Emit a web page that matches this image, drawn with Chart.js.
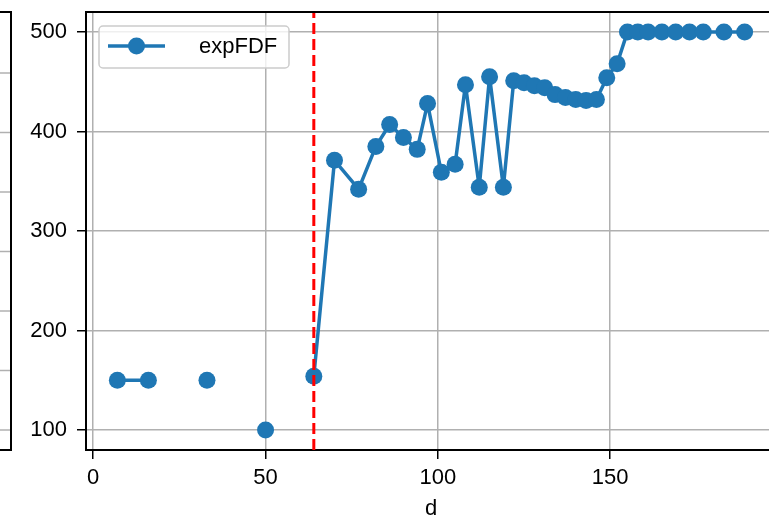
<!DOCTYPE html>
<html>
<head>
<meta charset="utf-8">
<script src="https://cdn.jsdelivr.net/npm/chart.js@4/dist/chart.umd.min.js"></script>
<style>
  html, body { margin: 0; padding: 0; background: #fff; overflow: hidden; width: 769px; height: 520px; }
  #wrap { position: absolute; left: 0; top: 0; width: 800px; height: 520px; }
</style>
</head>
<body>
<div id="wrap"><canvas id="c" width="800" height="520"></canvas></div>
<script>
// ---- data ----
const dValues = [7, 16, 24, 33, 41, 50, 57, 64, 70, 77, 82, 86, 90, 94, 97, 101, 105, 108, 112, 115, 119,
                 122, 125, 128, 131, 134, 137, 140, 143, 146, 149, 152, 155, 158, 161, 165, 169, 173, 177, 183, 189];
const expFDF  = [150, 150, null, 150, null, 100, null, 154, 371, 342, 385, 407, 394, 382, 428, 359, 367, 447, 344, 455, 344,
                 451, 449, 446, 444, 437, 434, 432, 431, 432, 454, 468, 500, 500, 500, 500, 500, 500, 500, 500, 500];
const seriesLabel = 'expFDF';
const thresholdD = 64;
const xTickValues = [0, 50, 100, 150];
const yTickValues = [100, 200, 300, 400, 500];
const xLimits = [-2.1, 198.1];
const yLimits = [80, 520];
const xAxisLabel = 'd';

const BLUE = '#1f77b4';
const FONT = "'Liberation Sans', Arial, sans-serif";
const FSIZE = 22;

const points = dValues.map((d, i) => ({ x: d, y: expFDF[i] }));

const decorPlugin = {
  id: 'decor',
  beforeDraw(chart) {
    const ctx = chart.ctx;
    ctx.save();
    ctx.fillStyle = '#fff';
    ctx.fillRect(0, 0, chart.width, chart.height);
    // cropped neighbouring panel on the left
    const top = chart.chartArea.top, bottom = chart.chartArea.bottom;
    ctx.strokeStyle = '#b0b0b0';
    ctx.lineWidth = 1.5;
    [73, 132.5, 192, 251.5, 311, 370.5, 430].forEach(y => {
      ctx.beginPath(); ctx.moveTo(0, y); ctx.lineTo(11, y); ctx.stroke();
    });
    ctx.strokeStyle = '#000';
    ctx.lineWidth = 2;
    ctx.beginPath();
    ctx.moveTo(0, top); ctx.lineTo(11, top); ctx.lineTo(11, bottom); ctx.lineTo(0, bottom);
    ctx.stroke();
    ctx.restore();
  },
  afterDatasetsDraw(chart) {
    const ctx = chart.ctx;
    const xs = chart.scales.x;
    const a = chart.chartArea;
    const px = xs.getPixelForValue(thresholdD);
    ctx.save();
    ctx.beginPath();
    ctx.rect(a.left, a.top, a.right - a.left, a.bottom - a.top);
    ctx.clip();
    ctx.strokeStyle = '#ff0000';
    ctx.lineWidth = 3;
    ctx.setLineDash([11, 5]);
    ctx.beginPath();
    ctx.moveTo(px, a.bottom); ctx.lineTo(px, a.top);
    ctx.stroke();
    ctx.restore();

    // top spine
    ctx.save();
    ctx.strokeStyle = '#000';
    ctx.lineWidth = 2;
    ctx.beginPath(); ctx.moveTo(a.left - 1, a.top); ctx.lineTo(a.right + 1, a.top); ctx.stroke();
    ctx.beginPath(); ctx.moveTo(a.right, a.top); ctx.lineTo(a.right, a.bottom); ctx.stroke();
    ctx.restore();

    // legend (line + marker + label) in upper-left of axes
    const bx = a.left + 13, by = a.top + 14, bw = 190, bh = 42;
    ctx.save();
    ctx.setLineDash([]);
    ctx.fillStyle = 'rgba(255,255,255,0.8)';
    ctx.strokeStyle = '#cccccc';
    ctx.lineWidth = 1.5;
    ctx.beginPath();
    if (ctx.roundRect) ctx.roundRect(bx, by, bw, bh, 4); else ctx.rect(bx, by, bw, bh);
    ctx.fill(); ctx.stroke();
    const ly = by + 20;
    ctx.strokeStyle = BLUE;
    ctx.lineWidth = 3.5;
    ctx.beginPath(); ctx.moveTo(bx + 9, ly); ctx.lineTo(bx + 66, ly); ctx.stroke();
    ctx.fillStyle = BLUE;
    ctx.beginPath(); ctx.arc(bx + 37.5, ly, 8.5, 0, Math.PI * 2); ctx.fill();
    ctx.fillStyle = '#000';
    ctx.font = FSIZE + 'px ' + FONT;
    ctx.textBaseline = 'middle';
    ctx.textAlign = 'left';
    ctx.fillText(chart.data.datasets[0].label, bx + 100, ly + 1);
    ctx.restore();
  }
};

new Chart(document.getElementById('c'), {
  type: 'line',
  data: {
    datasets: [{
      label: seriesLabel,
      data: points,
      borderColor: BLUE,
      backgroundColor: BLUE,
      borderWidth: 3.5,
      borderJoinStyle: 'round',
      borderCapStyle: 'round',
      pointRadius: 8.5,
      pointHoverRadius: 8.5,
      pointBorderWidth: 0,
      pointBackgroundColor: BLUE,
      spanGaps: false,
      tension: 0,
      clip: false
    }]
  },
  options: {
    responsive: false,
    animation: false,
    devicePixelRatio: 1,
    layout: { padding: { left: 0, right: 24, top: 12, bottom: 0 } },
    plugins: { legend: { display: false }, tooltip: { enabled: false } },
    scales: {
      x: {
        type: 'linear',
        min: xLimits[0], max: xLimits[1],
        afterBuildTicks: s => { s.ticks = xTickValues.map(v => ({ value: v })); },
        afterFit: s => { s.height = 70; s.paddingLeft = 0; s.paddingRight = 0; },
        grid: { color: '#b0b0b0', lineWidth: 1.5, tickColor: '#000', tickLength: 9, tickWidth: 1.5, drawTicks: true },
        border: { color: '#000', width: 2 },
        ticks: { color: '#000', font: { family: FONT, size: FSIZE }, padding: 6, maxRotation: 0 },
        title: { display: true, text: xAxisLabel, color: '#000', font: { family: FONT, size: FSIZE, lineHeight: 1 }, padding: { top: 0, bottom: 0 } }
      },
      y: {
        type: 'linear',
        min: yLimits[0], max: yLimits[1],
        afterBuildTicks: s => { s.ticks = yTickValues.map(v => ({ value: v })); },
        afterFit: s => { s.width = 86; s.paddingTop = 0; s.paddingBottom = 0; },
        grid: { color: '#b0b0b0', lineWidth: 1.5, tickColor: '#000', tickLength: 9, tickWidth: 1.5 },
        border: { color: '#000', width: 2 },
        ticks: { color: '#000', font: { family: FONT, size: FSIZE }, padding: 10 }
      }
    }
  },
  plugins: [decorPlugin]
});
</script>
</body>
</html>
